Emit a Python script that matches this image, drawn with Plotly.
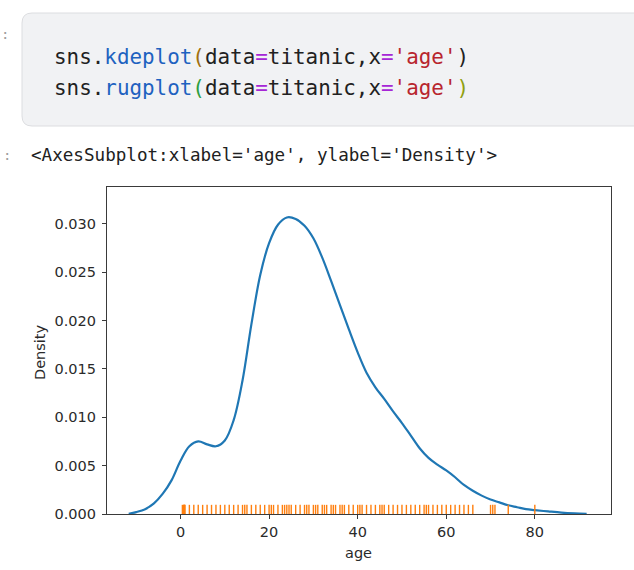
import plotly.graph_objects as go

# ---------------- data ----------------
kde_age = [-11.7, -10, -8, -6, -4, -2, 0, 2, 4, 6, 8, 10, 12, 14, 16, 18, 20, 22, 24, 26,
           28, 30, 32, 34, 36, 38, 40, 42, 44, 46, 48, 50, 52, 54, 56, 58, 60, 62, 64, 66,
           68, 70, 72, 74, 76, 78, 80, 83, 86, 89, 91.7]
kde_density = [0.00003, 0.0002, 0.0005, 0.0011, 0.0021, 0.0035, 0.0055, 0.0070, 0.0075,
               0.0072, 0.0070, 0.0076, 0.0097, 0.0138, 0.0196, 0.0247, 0.0280, 0.0299,
               0.03065, 0.0305, 0.0298, 0.0285, 0.0265, 0.0241, 0.0216, 0.0191, 0.0167,
               0.0146, 0.0131, 0.0119, 0.0106, 0.0094, 0.0081, 0.0068, 0.0058, 0.0051,
               0.0045, 0.0038, 0.0030, 0.0024, 0.0019, 0.0015, 0.0012, 0.0009, 0.0007,
               0.0005, 0.0004, 0.00027, 0.00015, 0.00007, 0.00002]

rug_ages = [0.42, 0.67, 0.75, 0.83, 0.92, 1, 2, 3, 4, 5, 6, 7, 8, 9, 10, 11, 12, 13, 14,
            14.5, 15, 16, 17, 18, 19, 20, 20.5, 21, 22, 23, 23.5, 24, 24.5, 25, 26, 27, 28,
            28.5, 29, 30, 30.5, 31, 32, 32.5, 33, 34, 34.5, 35, 36, 36.5, 37, 38, 39, 40,
            40.5, 41, 42, 43, 44, 45, 45.5, 46, 47, 48, 49, 50, 51, 52, 53, 54, 55, 55.5,
            56, 57, 58, 59, 60, 61, 62, 63, 64, 65, 66, 70, 70.5, 71, 74, 80]

x_ticks = [0, 20, 40, 60, 80]
y_ticks = [0.000, 0.005, 0.010, 0.015, 0.020, 0.025, 0.030]
x_label = "age"
y_label = "Density"
code_lines = [("kdeplot", "#a0700e", "#212121"), ("rugplot", "#2e9e3e", "#8fa010")]
output_text = "<AxesSubplot:xlabel='age', ylabel='Density'>"

# ---------------- geometry helpers (pixel -> paper) ----------------
W, H = 634, 570
L, R, T, B = 107, 611, 187, 514


def px(x):
    return (x - L) / (R - L)


def py(y):
    return (B - y) / (B - T)


RUG_H = 0.028

rug_x, rug_y = [], []
for a in rug_ages:
    rug_x += [a, a, None]
    rug_y += [0, RUG_H, None]

fig = go.Figure()
fig.add_trace(go.Scatter(x=kde_age, y=kde_density, mode="lines",
                         line=dict(color="#1f77b4", width=2.2, shape="spline", smoothing=1.0),
                         hoverinfo="skip", showlegend=False))
fig.add_trace(go.Scatter(x=rug_x, y=rug_y, mode="lines", yaxis="y2",
                         line=dict(color="#ff7f0e", width=1.4),
                         hoverinfo="skip", showlegend=False))

axis_common = dict(showgrid=False, zeroline=False, showline=True, linecolor="#3a3a3a",
                   linewidth=1.2, mirror=True, ticks="outside", ticklen=4, tickwidth=1,
                   tickcolor="#3a3a3a",
                   tickfont=dict(family="DejaVu Sans", size=14.5, color="#2a2a2a"))

fig.update_layout(
    width=W, height=H,
    margin=dict(l=L, r=W - R, t=T, b=H - B, pad=0),
    paper_bgcolor="white", plot_bgcolor="white",
    hovermode=False,
    xaxis=dict(range=[-16.6, 97.2], tickvals=x_ticks, ticktext=[str(v) for v in x_ticks],
               **axis_common),
    yaxis=dict(range=[0, 0.0338], tickvals=y_ticks, ticktext=["%.3f" % v for v in y_ticks],
               ticklabelstandoff=3, **axis_common),
    yaxis2=dict(overlaying="y", range=[0, 1], visible=False, fixedrange=True),
)

# ---------------- notebook chrome: code cell ----------------
x0, x1, y0, y1, r = 22, 660, 13, 126, 10
path = (f"M {px(x0 + r)},{py(y0)} L {px(x1)},{py(y0)} L {px(x1)},{py(y1)} "
        f"L {px(x0 + r)},{py(y1)} Q {px(x0)},{py(y1)} {px(x0)},{py(y1 - r)} "
        f"L {px(x0)},{py(y0 + r)} Q {px(x0)},{py(y0)} {px(x0 + r)},{py(y0)} Z")
fig.add_shape(type="path", path=path, xref="paper", yref="paper",
              fillcolor="#f1f2f4", line=dict(color="#dcdde0", width=1), layer="below")

mono = "DejaVu Sans Mono"
ann = []
line_y = [57, 88]
for (fn, open_c, close_c), yy in zip(code_lines, line_y):
    txt = ("<span style='color:#212121'>sns.</span>"
           f"<span style='color:#1e62c0'>{fn}</span>"
           f"<span style='color:{open_c}'>(</span>"
           "<span style='color:#212121'>data</span>"
           "<span style='color:#a626d6'>=</span>"
           "<span style='color:#212121'>titanic,x</span>"
           "<span style='color:#a626d6'>=</span>"
           "<span style='color:#b8252d'>'age'</span>"
           f"<span style='color:{close_c}'>)</span>")
    ann.append(dict(text=txt, x=px(52), y=py(yy), xref="paper", yref="paper",
                    xanchor="left", yanchor="middle", showarrow=False,
                    font=dict(family=mono, size=20.9, color="#212121")))

# prompt markers
ann.append(dict(text=":", x=px(5), y=py(34), xref="paper", yref="paper",
                xanchor="center", yanchor="middle", showarrow=False,
                font=dict(family=mono, size=14, color="#9e9e9e")))
ann.append(dict(text=":", x=px(7), y=py(155), xref="paper", yref="paper",
                xanchor="center", yanchor="middle", showarrow=False,
                font=dict(family=mono, size=14, color="#9e9e9e")))

# output text
ann.append(dict(text=output_text.replace("<", "&lt;").replace(">", "&gt;"),
                x=px(29), y=py(155), xref="paper", yref="paper",
                xanchor="left", yanchor="middle", showarrow=False,
                font=dict(family=mono, size=17.6, color="#212121")))

# axis titles
ann.append(dict(text=x_label, x=px(358), y=py(553), xref="paper", yref="paper",
                xanchor="center", yanchor="middle", showarrow=False,
                font=dict(family="DejaVu Sans", size=14.5, color="#2a2a2a")))
ann.append(dict(text=y_label, x=px(40), y=py(352), xref="paper", yref="paper",
                xanchor="center", yanchor="middle", showarrow=False, textangle=-90,
                font=dict(family="DejaVu Sans", size=14.5, color="#2a2a2a")))

fig.update_layout(annotations=ann)

fig.write_html("out.html", config={"displayModeBar": False},
               post_script="document.body.style.margin='0';document.body.style.overflow='hidden';")
